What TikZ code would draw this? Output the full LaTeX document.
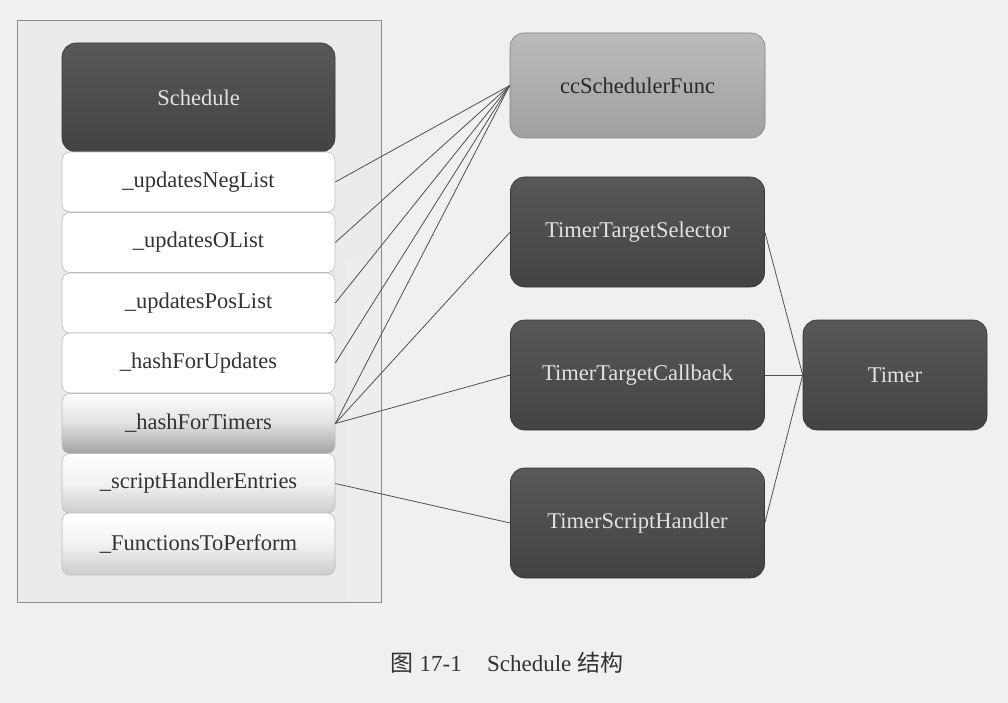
\documentclass[tikz,border=0pt]{standalone}
\usepackage{fontspec}
\setmainfont{Liberation Serif}
\newfontfamily\cjk{Noto Sans CJK SC}
\definecolor{pagebg}{HTML}{F0F0F0}
\definecolor{framebg}{HTML}{EBEBEB}
\definecolor{framedraw}{HTML}{8C8C8C}
\definecolor{linecol}{HTML}{505050}
\definecolor{darkbox}{HTML}{434343}
\definecolor{darkboxtop}{HTML}{585858}
\definecolor{midbox}{HTML}{A0A0A0}
\definecolor{midboxtop}{HTML}{BBBBBB}
\definecolor{celldraw}{HTML}{BDBDBD}
\definecolor{celltext}{HTML}{333333}
\definecolor{lighttext}{HTML}{E2E2E2}
\tikzset{
  basebox/.style={rounded corners=14pt, inner sep=0pt, font=\fontsize{22.5}{25}\selectfont},
  darkstyle/.style={basebox, top color=darkboxtop, bottom color=darkbox, draw=darkbox!80!black, line width=0.6pt, text=lighttext, minimum width=254, minimum height=110},
  midstyle/.style={basebox, top color=midboxtop, bottom color=midbox, draw=midbox!80!black, line width=0.6pt, text=celltext!80!black, minimum width=255, minimum height=105},
  cellbox/.style={rounded corners=8pt, inner sep=0pt, font=\fontsize{22.5}{25}\selectfont, draw=celldraw, line width=0.6pt, text=celltext, minimum width=273, minimum height=60},
  plaincell/.style={cellbox, fill=white},
  conn/.style={draw=linecol, line width=0.8pt}
}
\begin{document}
\begin{tikzpicture}[x=1pt,y=-1pt]
\fill[pagebg] (0,0) rectangle (1008,703);
\useasboundingbox (0,0) rectangle (1008,703);
% outer frame
\node[draw=framedraw, fill=framebg, line width=0.7pt, minimum width=364, minimum height=582, inner sep=0pt] (frame) at (199,311) {};
\fill[black!7] (347,262) rectangle (380,601);
% left column
\node[basebox, top color=darkboxtop, bottom color=darkbox, draw=darkbox!80!black, line width=0.6pt, text=lighttext, minimum width=273, minimum height=109] (sched) at (198.5,97.5) {Schedule};
\node[plaincell] (neg) at (198.5,182) {\_updatesNegList};
\node[plaincell] (zero) at (198.5,242.5) {\_updatesOList};
\node[plaincell] (pos) at (198.5,303) {\_updatesPosList};
\node[plaincell] (hupd) at (198.5,363) {\_hashForUpdates};
\node[cellbox, top color=white, bottom color=black!36, middle color=black!12] (htim) at (198.5,423.5) {\_hashForTimers};
\node[cellbox, top color=white, bottom color=black!20, middle color=black!5] (script) at (198.5,483.5) {\_scriptHandlerEntries};
\node[cellbox, top color=white, bottom color=black!20, middle color=black!5, minimum height=62] (func) at (198.5,544) {\_FunctionsToPerform};
% right column
\node[midstyle] (cc) at (637.5,85.5) {ccSchedulerFunc};
\node[darkstyle] (tsel) at (637.5,232) {TimerTargetSelector};
\node[darkstyle] (tcb) at (637.5,375) {TimerTargetCallback};
\node[darkstyle] (tsh) at (637.5,523) {TimerScriptHandler};
\node[darkstyle, minimum width=184] (timer) at (895,375) {Timer};
% connectors
\draw[conn] (neg.east) -- (cc.west);
\draw[conn] (zero.east) -- (cc.west);
\draw[conn] (pos.east) -- (cc.west);
\draw[conn] (hupd.east) -- (cc.west);
\draw[conn] (htim.east) -- (cc.west);
\draw[conn] (htim.east) -- (tsel.west);
\draw[conn] (htim.east) -- (tcb.west);
\draw[conn] (script.east) -- (tsh.west);
\draw[conn] (tsel.east) -- (timer.west);
\draw[conn] (tcb.east) -- (timer.west);
\draw[conn] (tsh.east) -- (timer.west);
% caption
\node[font=\fontsize{23}{26}\selectfont, text=black!80, inner sep=0pt] (cap) at (507,663) {{\cjk 图} 17-1\hspace{1.1em}Schedule {\cjk 结构}};
\end{tikzpicture}
\end{document}
